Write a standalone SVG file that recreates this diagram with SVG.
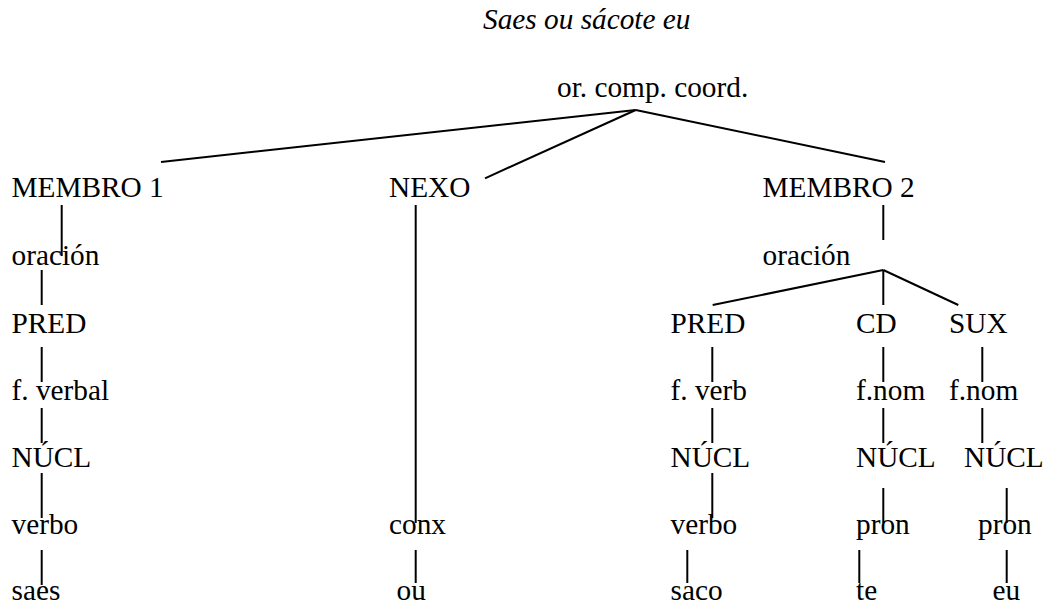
<svg xmlns="http://www.w3.org/2000/svg" width="1051" height="608" viewBox="0 0 1051 608">
<style>
text{font-family:'Liberation Serif','Times New Roman',Times,'DejaVu Serif',serif;font-size:29.3px;fill:#000}
.title{font-style:italic}
.c line{stroke:#000;stroke-width:2;stroke-linecap:butt}
</style>
<rect width="1051" height="608" fill="#fff"/>
<g font-family="Liberation Serif, DejaVu Serif, serif">
<g id="title"><text class="title" x="483" y="29">Saes ou sácote eu</text></g>
<g class="c" id="connectors">
<line x1="635.7" y1="110" x2="161" y2="162"/>
<line x1="635.7" y1="110" x2="485" y2="178.3"/>
<line x1="635.7" y1="110" x2="885" y2="162"/>
<line x1="61.7" y1="205" x2="61.7" y2="256"/>
<line x1="41.7" y1="270" x2="41.7" y2="305"/>
<line x1="41.7" y1="347" x2="41.7" y2="382"/>
<line x1="41.7" y1="408" x2="41.7" y2="443"/>
<line x1="41.7" y1="473" x2="41.7" y2="518"/>
<line x1="41.7" y1="550" x2="41.7" y2="585"/>
<line x1="415.7" y1="205" x2="415.7" y2="523"/>
<line x1="415.7" y1="550" x2="415.7" y2="583"/>
<line x1="883.3" y1="205" x2="883.3" y2="240"/>
<line x1="883.3" y1="270" x2="712.7" y2="305"/>
<line x1="883.3" y1="270" x2="883.3" y2="305"/>
<line x1="883.3" y1="270" x2="958.3" y2="305"/>
<line x1="712.3" y1="347" x2="712.3" y2="382"/>
<line x1="883.3" y1="347" x2="883.3" y2="382"/>
<line x1="982.3" y1="347" x2="982.3" y2="382"/>
<line x1="712.3" y1="408" x2="712.3" y2="443"/>
<line x1="883.3" y1="408" x2="883.3" y2="443"/>
<line x1="982.3" y1="408" x2="982.3" y2="443"/>
<line x1="712.3" y1="473" x2="712.3" y2="518"/>
<line x1="883.3" y1="488" x2="883.3" y2="523"/>
<line x1="1006.7" y1="488" x2="1006.7" y2="523"/>
<line x1="687.3" y1="550" x2="687.3" y2="583"/>
<line x1="859.3" y1="550" x2="859.3" y2="583"/>
<line x1="1006.7" y1="550" x2="1006.7" y2="583"/>
</g>
<g id="n-root"><text x="557" y="97">or. comp. coord.</text></g>
<g id="n-membro1"><text x="11.5" y="197">MEMBRO 1</text></g>
<g id="n-oracion1"><text x="11.5" y="265">oración</text></g>
<g id="n-pred1"><text x="11.5" y="333">PRED</text></g>
<g id="n-fverbal1"><text x="11.5" y="400">f. verbal</text></g>
<g id="n-nucl1"><text x="11.5" y="467">NÚCL</text></g>
<g id="n-verbo1"><text x="11.5" y="534">verbo</text></g>
<g id="n-saes"><text x="11.5" y="600">saes</text></g>
<g id="n-nexo"><text x="389" y="197">NEXO</text></g>
<g id="n-conx"><text x="389" y="534">conx</text></g>
<g id="n-ou"><text x="396.5" y="600">ou</text></g>
<g id="n-membro2"><text x="762.5" y="197">MEMBRO 2</text></g>
<g id="n-oracion2"><text x="762.5" y="265">oración</text></g>
<g id="n-pred2"><text x="670.5" y="333">PRED</text></g>
<g id="n-cd"><text x="856" y="333">CD</text></g>
<g id="n-sux"><text x="949" y="333">SUX</text></g>
<g id="n-fverb2"><text x="670.5" y="400">f. verb</text></g>
<g id="n-fnom-cd"><text x="856" y="400">f.nom</text></g>
<g id="n-fnom-sux"><text x="949" y="400">f.nom</text></g>
<g id="n-nucl2"><text x="670.5" y="467">NÚCL</text></g>
<g id="n-nucl-cd"><text x="856" y="467">NÚCL</text></g>
<g id="n-nucl-sux"><text x="964" y="467">NÚCL</text></g>
<g id="n-verbo2"><text x="670.5" y="534">verbo</text></g>
<g id="n-pron-cd"><text x="856" y="534">pron</text></g>
<g id="n-pron-sux"><text x="978" y="534">pron</text></g>
<g id="n-saco"><text x="670.5" y="600">saco</text></g>
<g id="n-te"><text x="856" y="600">te</text></g>
<g id="n-eu"><text x="992.5" y="600">eu</text></g>
</g>
</svg>
